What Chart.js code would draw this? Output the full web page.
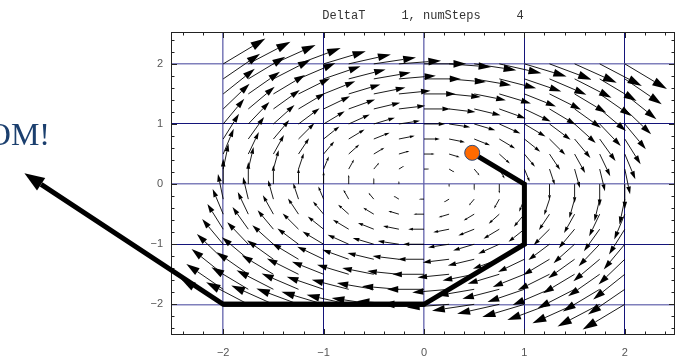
<!DOCTYPE html>
<html>
<head>
<meta charset="utf-8">
<script src="https://cdn.jsdelivr.net/npm/chart.js@4.4.1/dist/chart.umd.min.js"></script>
<style>
  html, body { margin: 0; padding: 0; background: #fff; }
  #wrap { width: 677px; height: 357px; }
</style>
</head>
<body>
<div id="wrap"><canvas id="c"></canvas></div>
<script>
/* vector field {y, -x}, Euler path with DeltaT 1 */
// sample points of the field
const fieldX = [-2, -1.75, -1.5, -1.25, -1, -0.75, -0.5, -0.25, 0, 0.25, 0.5, 0.75, 1, 1.25, 1.5, 1.75, 2];
const fieldY = [-2, -1.75, -1.5, -1.25, -1, -0.75, -0.5, -0.25, 0, 0.25, 0.5, 0.75, 1, 1.25, 1.5, 1.75, 2];
// x component per row (same order as fieldY), y component per column (same order as fieldX)
const fieldU = [-2, -1.75, -1.5, -1.25, -1, -0.75, -0.5, -0.25, 0, 0.25, 0.5, 0.75, 1, 1.25, 1.5, 1.75, 2];
const fieldV = [2, 1.75, 1.5, 1.25, 1, 0.75, 0.5, 0.25, 0, -0.25, -0.5, -0.75, -1, -1.25, -1.5, -1.75, -2];

// integration steps
const pathX = [0.48, 1, 1, 0, -2];
const pathY = [0.52, 0, -1, -2, -2];
const startX = [0.48];
const startY = [0.52];
// the step that blows up
const boomX = [-2, -3.98];
const boomY = [-2, 0.18];

const xTicks = [-2, -1, 0, 1, 2];
const yTicks = [-2, -1, 0, 1, 2];
const xMinor = [-2.4, -2.2, -1.8, -1.6, -1.4, -1.2, -0.8, -0.6, -0.4, -0.2, 0.2, 0.4, 0.6, 0.8, 1.2, 1.4, 1.6, 1.8, 2.2, 2.4];
const yMinor = [-2.4, -2.2, -1.8, -1.6, -1.4, -1.2, -0.8, -0.6, -0.4, -0.2, 0.2, 0.4, 0.6, 0.8, 1.2, 1.4, 1.6, 1.8, 2.2, 2.4];

const titleText = "DeltaT     1, numSteps     4";
const noteText = "BOOM!";

const ARROW_SCALE = 0.21;
const softX = [-2, 0], softY = [2, 0, -2];   // grid lines that come out blurred in the original
const lbl = (v) => (v < 0 ? "\u2212" + Math.abs(v) : String(v));

function arrowHead(ctx, x0, y0, x1, y1, len, half) {
  const a = Math.atan2(y1 - y0, x1 - x0);
  const bx = x1 - len * Math.cos(a), by = y1 - len * Math.sin(a);
  ctx.beginPath();
  ctx.moveTo(x1, y1);
  ctx.lineTo(bx + half * Math.sin(a), by - half * Math.cos(a));
  ctx.lineTo(bx - half * Math.sin(a), by + half * Math.cos(a));
  ctx.closePath();
  ctx.fill();
  return [bx, by];
}

const framePlugin = {
  id: "frame",
  beforeDatasetsDraw(chart) {
    const { ctx, chartArea: a, scales: { x, y } } = chart;
    ctx.save();
    ctx.strokeStyle = "#222";
    ctx.lineWidth = 1;
    ctx.strokeRect(Math.round(a.left) + 0.5, Math.round(a.top) + 0.5, Math.round(a.right - a.left) - 1, Math.round(a.bottom - a.top) - 1);
    // inward ticks on all four sides
    ctx.beginPath();
    const tick = (vals, len) => {
      vals.forEach(v => {
        const px = Math.round(x.getPixelForValue(v)) + 0.5;
        ctx.moveTo(px, a.bottom); ctx.lineTo(px, a.bottom - len);
        ctx.moveTo(px, a.top); ctx.lineTo(px, a.top + len);
      });
    };
    const tickY = (vals, len) => {
      vals.forEach(v => {
        const py = Math.round(y.getPixelForValue(v)) + 0.5;
        ctx.moveTo(a.left, py); ctx.lineTo(a.left + len, py);
        ctx.moveTo(a.right, py); ctx.lineTo(a.right - len, py);
      });
    };
    tick(xTicks, 6); tick(xMinor, 3.5);
    tickY(yTicks, 6); tickY(yMinor, 3.5);
    ctx.stroke();

    // vector field
    ctx.strokeStyle = "#000";
    ctx.fillStyle = "#000";
    ctx.lineWidth = 0.9;
    fieldX.forEach((fx, i) => {
      fieldY.forEach((fy, j) => {
        const u = fieldU[j], v = fieldV[i];
        if (u === 0 && v === 0) return;
        const x0 = x.getPixelForValue(fx), y0 = y.getPixelForValue(fy);
        const x1 = x.getPixelForValue(fx + ARROW_SCALE * u), y1 = y.getPixelForValue(fy + ARROW_SCALE * v);
        const L = Math.hypot(x1 - x0, y1 - y0);
        const [bx, by] = arrowHead(ctx, x0, y0, x1, y1, 0.3 * L, 0.09 * L);
        ctx.beginPath(); ctx.moveTo(x0, y0); ctx.lineTo(bx, by); ctx.stroke();
      });
    });
    ctx.restore();
  },
  afterDatasetsDraw(chart) {
    const { ctx, scales: { x, y } } = chart;
    ctx.save();
    // big arrow: joins the last step of the path
    const x0 = x.getPixelForValue(boomX[0]), y0 = y.getPixelForValue(boomY[0]);
    const x1 = x.getPixelForValue(boomX[1]), y1 = y.getPixelForValue(boomY[1]);
    ctx.fillStyle = "#000";
    const [bx, by] = arrowHead(ctx, x0, y0, x1, y1, 20, 7.5);
    const n = pathX.length;
    ctx.beginPath();
    ctx.moveTo(x.getPixelForValue(pathX[n - 2]), y.getPixelForValue(pathY[n - 2]));
    ctx.lineTo(x0, y0);
    ctx.lineTo(bx, by);
    ctx.strokeStyle = "#000";
    ctx.lineWidth = 5;
    ctx.lineJoin = "miter";
    ctx.lineCap = "butt";
    ctx.stroke();
    ctx.restore();
  },
  afterDraw(chart) {
    const { ctx, chartArea: a } = chart;
    ctx.save();
    ctx.fillStyle = "#333";
    ctx.font = "12px 'Liberation Mono', 'DejaVu Sans Mono', monospace";
    ctx.textAlign = "center";
    ctx.textBaseline = "middle";
    ctx.fillText(titleText, (a.left + a.right) / 2, 16);
    ctx.fillStyle = "#1b3f6e";
    ctx.font = "32px 'Liberation Serif', serif";
    ctx.textAlign = "right";
    ctx.textBaseline = "alphabetic";
    ctx.fillText(noteText, 50, 145);
    ctx.restore();
  },
};

const gridOpts = (soft) => ({
  drawTicks: false,
  color: (c) => (soft.includes(c.tick.value) ? "rgba(95,95,170,0.8)" : "#14147a"),
  lineWidth: (c) => (soft.includes(c.tick.value) ? 1.6 : 1),
});
const tickFont = { family: "'Liberation Sans', Arial, sans-serif", size: 11 };

new Chart(document.getElementById("c"), {
  data: {
    datasets: [
      {
        type: "scatter",
        data: startX.map((v, i) => ({ x: v, y: startY[i] })),
        pointRadius: 7.5,
        pointBackgroundColor: "#ff6a00",
        pointBorderColor: "#2d4d7d",
        pointBorderWidth: 1,
      },
      {
        type: "line",
        data: pathX.map((v, i) => ({ x: v, y: pathY[i] })),
        borderColor: "#000",
        borderWidth: 5,
        borderJoinStyle: "miter",
        borderCapStyle: "butt",
        pointRadius: 0,
        tension: 0,
        fill: false,
      },
    ],
  },
  options: {
    responsive: true,
    maintainAspectRatio: false,
    animation: false,
    events: [],
    layout: { autoPadding: false, padding: { top: 32, right: 2, left: 0, bottom: 0 } },
    plugins: { legend: { display: false }, tooltip: { enabled: false }, title: { display: false } },
    scales: {
      x: {
        type: "linear", min: -2.52, max: 2.5,
        afterBuildTicks: (s) => { s.ticks = xTicks.map(v => ({ value: v })); },
        afterFit: (s) => { s.height = 22; },
        grid: gridOpts(softX),
        border: { display: false },
        ticks: { padding: 11, color: "#555", font: tickFont, maxRotation: 0, autoSkip: false, callback: lbl },
      },
      y: {
        type: "linear", min: -2.51, max: 2.53,
        afterBuildTicks: (s) => { s.ticks = yTicks.map(v => ({ value: v })); },
        afterFit: (s) => { s.width = 171; },
        grid: gridOpts(softY),
        border: { display: false },
        ticks: { padding: 8, color: "#555", font: tickFont, autoSkip: false, callback: lbl },
      },
    },
  },
  plugins: [framePlugin],
});
</script>
</body>
</html>
